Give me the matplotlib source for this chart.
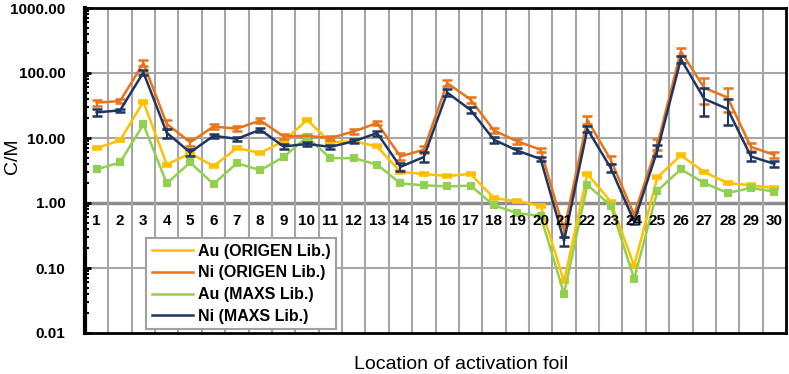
import numpy as np
import matplotlib
matplotlib.use("Agg")
import matplotlib.pyplot as plt
from matplotlib.lines import Line2D
from matplotlib.ticker import LogLocator, FixedLocator, FuncFormatter

plt.rcParams['font.family'] = ['Liberation Sans', 'DejaVu Sans']

# foil locations 1..30
loc = np.arange(1, 31)

au_origen = [7.0, 9.2, 36, 3.9, 5.8, 3.7, 7.0, 5.9, 8.9, 19, 8.6, 8.9, 7.4, 3.0, 2.8,
             2.6, 2.8, 1.19, 1.06, 0.91, 0.062, 2.8, 1.05, 0.108, 2.5, 5.4, 3.0, 2.03, 1.87, 1.7]
ni_origen = [35, 37, 142, 16.5, 8.6, 15, 13.9, 18.6, 10.6, 10.8, 10.0, 12.6, 17, 5.2, 6.6,
             70, 39, 13.1, 8.9, 6.6, 0.38, 19, 4.6, 0.66, 8.0, 215, 59, 42, 7.3, 5.5]
ni_origen_err = [4, 2.5, 15, 2.5, 1.0, 1.2, 1.2, 1.5, 0.8, 0.8, 0.8, 1.0, 1.4, 0.6, 0.8,
                 8, 4, 1.2, 0.7, 0.5, 0.08, 2.5, 0.6, 0.06, 1.5, 30, 26, 17, 1.0, 0.5]
au_maxs = [3.3, 4.2, 16.2, 2.0, 4.2, 1.96, 4.1, 3.2, 5.1, 10.4, 4.9, 4.9, 3.9, 2.0, 1.87,
           1.8, 1.85, 0.92, 0.70, 0.63, 0.040, 1.9, 0.91, 0.068, 1.55, 3.3, 2.03, 1.43, 1.7, 1.5]
ni_maxs = [24.8, 26.6, 102, 12, 6.0, 10.8, 9.7, 13.4, 7.4, 8.1, 7.3, 8.9, 11.9, 3.6, 5.1,
           50, 27, 9.4, 6.4, 4.75, 0.26, 13.7, 3.45, 0.52, 6.5, 164, 40, 28, 5.2, 4.0]
ni_maxs_err = [2.8, 1.5, 8, 2, 0.8, 0.7, 0.8, 1.0, 0.6, 0.5, 0.6, 0.6, 1.0, 0.5, 0.9,
               6, 3, 1.0, 0.5, 0.4, 0.045, 1.5, 0.5, 0.05, 1.3, 20, 18, 12, 0.8, 0.4]

names = ['Au (ORIGEN Lib.)', 'Ni (ORIGEN Lib.)', 'Au (MAXS Lib.)', 'Ni (MAXS Lib.)']
c_yel = '#FFC000'
c_ora = '#E8731A'
c_grn = '#92D050'
c_nav = '#1F3660'

fig = plt.figure(figsize=(7.89, 3.74), dpi=100)
ax = fig.add_axes([85/789, 1-333/374, 701/789, 325/374])

ax.set_yscale('log')
ax.set_ylim(0.01, 1000)
ax.set_xlim(0.5, 30.5)

# grid
for yv in [0.1, 10, 100]:
    ax.axhline(yv, color='#A6A6A6', lw=1.5, zorder=1)
ax.axhline(1, color='#8C8C8C', lw=2.5, zorder=1)
for xv in np.arange(1.5, 30.5, 1):
    ax.axvline(xv, color='#A6A6A6', lw=1.5, zorder=1)

ax.plot(loc, au_origen, color=c_yel, lw=1.8, marker='_', ms=7.5, mew=4, zorder=3)
ax.errorbar(loc, ni_origen, yerr=ni_origen_err, color=c_ora, lw=1.8, capsize=3.5,
            capthick=1.8, elinewidth=1.5, zorder=3)
ax.plot(loc, au_maxs, color=c_grn, lw=1.8, marker='s', ms=6, mew=0, zorder=3)
ax.errorbar(loc, ni_maxs, yerr=ni_maxs_err, color=c_nav, lw=1.8, capsize=3.5,
            capthick=1.8, elinewidth=1.5, zorder=4)

# category labels just under the 1.00 line
for i in loc:
    ax.text(i, 0.52, str(i), ha='center', va='center', fontsize=11,
            fontweight='bold', zorder=5)

ax.set_xticks([])
ax.yaxis.set_major_locator(FixedLocator([0.01, 0.1, 1, 10, 100, 1000]))
ax.yaxis.set_minor_locator(LogLocator(base=10, subs=np.arange(2, 10)))
ax.yaxis.set_major_formatter(FuncFormatter(lambda v, p: '%.2f' % v))
ax.yaxis.set_minor_formatter(FuncFormatter(lambda v, p: ''))
ax.tick_params(axis='y', which='major', direction='in', length=4, width=2,
               labelsize=11, pad=14)
ax.tick_params(axis='y', which='minor', direction='in', length=3, width=1.5)
for lab in ax.get_yticklabels():
    lab.set_fontweight('bold')

for s in ax.spines.values():
    s.set_linewidth(2)
    s.set_color('black')
ax.spines['left'].set_linewidth(3)

handles = [Line2D([], [], color=c, lw=1.8) for c in [c_yel, c_ora, c_grn, c_nav]]
leg = ax.legend(handles, names, loc='upper left', bbox_to_anchor=(0.087, 0.292),
                borderaxespad=0, fancybox=False, framealpha=1, edgecolor='#A0A0A0',
                prop={'weight': 'bold', 'size': 11.5}, handlelength=2.6,
                labelspacing=0.42, borderpad=0.35, handletextpad=0.3)
leg.get_frame().set_linewidth(1.5)
leg.set_zorder(6)

fig.text(12/789, 1-156/374, 'C/M', rotation=90, ha='center', va='center', fontsize=14)
fig.text(461/789, 1-356/374, 'Location of activation foil', ha='center', va='top',
         fontsize=14)

fig.savefig('out.png', dpi=100)
